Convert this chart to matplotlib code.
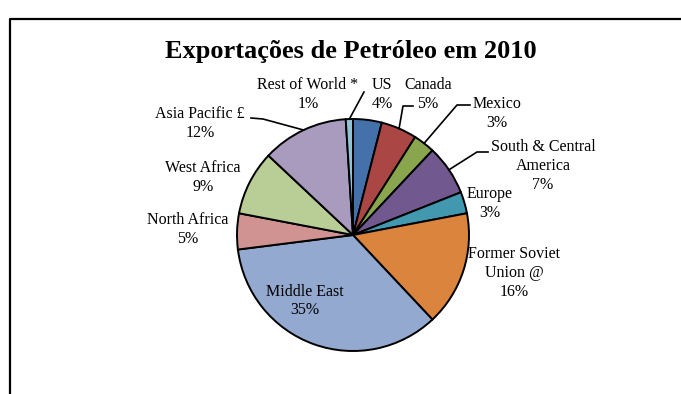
import numpy as np
import matplotlib
matplotlib.use("Agg")
import matplotlib.pyplot as plt

# Oil exports by region, 2010 (share of total, %)
regions = ["US", "Canada", "Mexico", "South & Central\nAmerica", "Europe",
           "Former Soviet\nUnion @", "Middle East", "North Africa",
           "West Africa", "Asia Pacific £", "Rest of World *"]
shares = [4, 5, 3, 7, 3, 16, 35, 5, 9, 12, 1]
colors = ["#4471AA", "#AA4643", "#89A54E", "#71588F", "#4198AF", "#DB843D",
          "#93A9CF", "#D19392", "#B9CD96", "#A99BBD", "#91C3D5"]
title = "Exportações de Petróleo em 2010"

W, H = 681, 394
fig = plt.figure(figsize=(W / 100, H / 100), dpi=100)
ax = fig.add_axes([0, 0, 1, 1])

def py(y):
    """Convert a top-down pixel row into the axes' bottom-up coordinate."""
    return H - y

cx, cy, r = 353, py(235), 116
wedges, _ = ax.pie(shares, colors=colors, startangle=90, counterclock=False,
                   center=(cx, cy), radius=r, frame=True,
                   wedgeprops=dict(edgecolor="black", linewidth=1.4))
ax.set_xlim(0, W)
ax.set_ylim(0, H)
ax.set_aspect("auto")
ax.axis("off")

# chart frame
ax.plot([9.5, 9.5, W + 5], [-5, py(18.5), py(18.5)], color="black", lw=1.6,
        clip_on=False)

ax.text(351, py(51), title, ha="center", va="center", fontsize=19,
        fontweight="bold", family="Liberation Serif")

# label block centres (pixel coords) and optional leader elbows
label_pos = {
    "US": (382, 94),
    "Canada": (428, 94),
    "Mexico": (497, 113),
    "South & Central\nAmerica": (543, 166),
    "Europe": (490, 203),
    "Former Soviet\nUnion @": (514, 273),
    "Middle East": (305, 301),
    "North Africa": (188, 229),
    "West Africa": (203, 177),
    "Asia Pacific £": (200, 123),
    "Rest of World *": (308, 94),
}
leaders = {
    "Canada": [(403, 106), (413, 106)],
    "Mexico": [(457, 105), (470, 105)],
    "South & Central\nAmerica": [(477, 152), (488, 152)],
    "Asia Pacific £": [(263, 119), (251, 118)],
    "Rest of World *": [(364, 92)],
}
line_step = 19  # px between label lines

for name, val, w in zip(regions, shares, wedges):
    x, y = label_pos[name]
    lines = name.split("\n") + [f"{val}%"]
    y0 = y - line_step * (len(lines) - 1) / 2
    for i, line in enumerate(lines):
        ax.text(x, py(y0 + i * line_step), line, ha="center", va="center",
                fontsize=11.5, family="Liberation Serif")
    if name in leaders:
        th = np.deg2rad((w.theta1 + w.theta2) / 2)
        pts = [(cx + r * np.cos(th), cy + r * np.sin(th))]
        pts += [(px, py(pyy)) for px, pyy in leaders[name]]
        xs, ys = zip(*pts)
        ax.plot(xs, ys, color="black", lw=1.2)

fig.savefig("out.png", dpi=100, facecolor="white")
